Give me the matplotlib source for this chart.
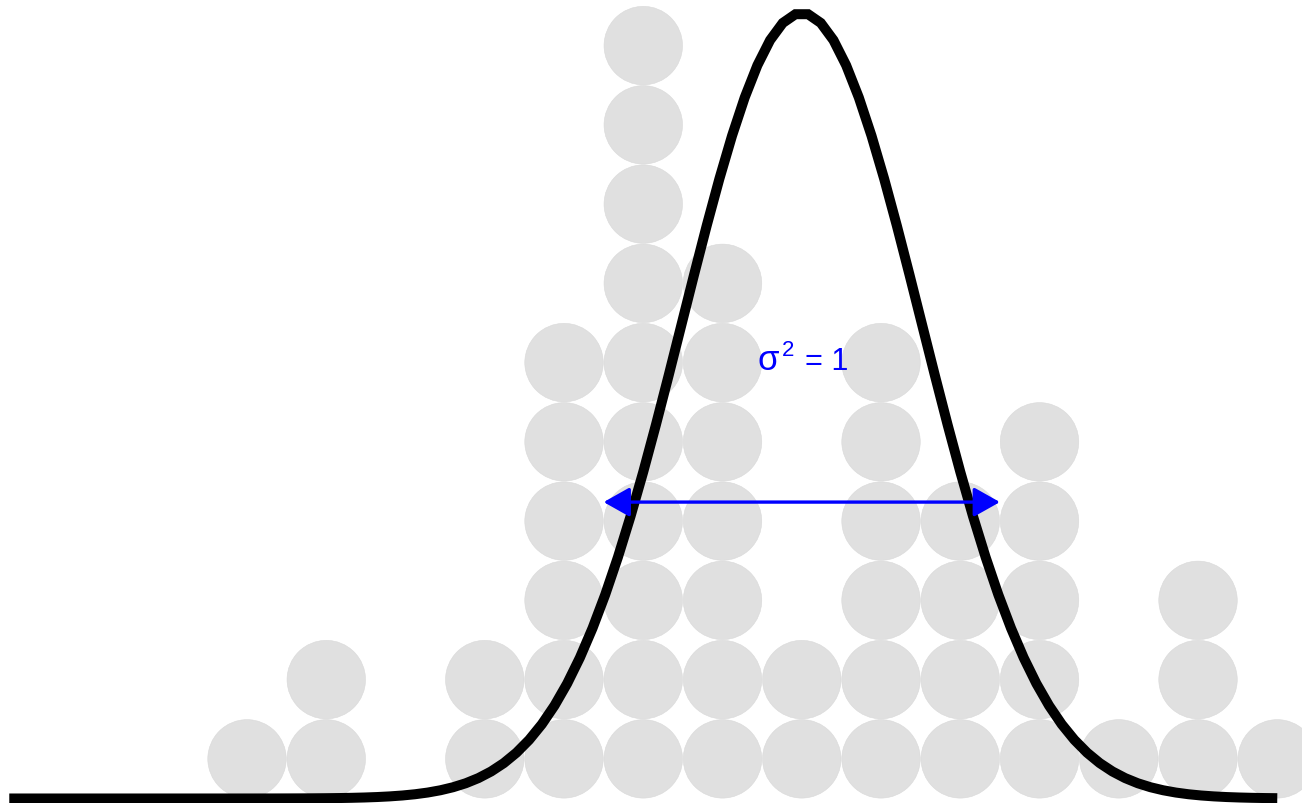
import numpy as np
import matplotlib
matplotlib.use("Agg")
import matplotlib.pyplot as plt
from matplotlib.patches import Circle, FancyArrowPatch

plt.rcParams['font.family'] = ['Liberation Sans', 'DejaVu Sans']

# dot plot: bin centres (in bin-width units) and number of stacked dots
bin_centers = [3, 4, 6, 7, 8, 9, 10, 11, 12, 13, 14, 15, 16]
dot_counts = [1, 2, 2, 6, 10, 7, 2, 6, 4, 5, 1, 3, 1]

# normal curve drawn over the dots
curve_mean = 10.0
curve_sd = 1.51
curve_peak = 9.91
curve_from, curve_to = 0.0, 16.0

# variance arrow and label
arrow_left, arrow_right = 7.5, 12.5
arrow_y = 3.74
label_y = 5.42

dot_color = '#e0e0e0'
blue = '#0000ff'

fig = plt.figure(figsize=(13.02, 8.04), dpi=100)
ax = fig.add_axes([0, 0, 1, 1])
ax.set_xlim(-0.117, 16.312)
ax.set_ylim(-0.057, 10.088)
ax.axis('off')

for xc, n in zip(bin_centers, dot_counts):
    for k in range(n):
        ax.add_patch(Circle((xc, k + 0.5), 0.495, facecolor=dot_color,
                            edgecolor='#d9d9d9', linewidth=0.4, zorder=1))

xs = np.linspace(curve_from, curve_to, 101)
ys = curve_peak * np.exp(-0.5 * ((xs - curve_mean) / curve_sd) ** 2)
ax.plot(xs, ys, color='black', linewidth=7.2, solid_capstyle='butt',
        solid_joinstyle='miter', zorder=2)

arr = FancyArrowPatch((arrow_left, arrow_y), (arrow_right, arrow_y),
                      arrowstyle='<|-|>,head_length=16,head_width=9',
                      mutation_scale=1, shrinkA=0, shrinkB=0,
                      color=blue, linewidth=2.4, zorder=3)
ax.add_patch(arr)

# sigma^2 = 1, built from pieces so the superscript matches the original
ax.annotate('σ', xy=(curve_mean, label_y), xytext=(-44, 0),
            textcoords='offset pixels', color=blue, fontsize=25,
            ha='left', va='baseline', zorder=4)
ax.annotate('2', xy=(curve_mean, label_y), xytext=(-20, 14),
            textcoords='offset pixels', color=blue, fontsize=16,
            ha='left', va='baseline', zorder=4)
ax.annotate('= 1', xy=(curve_mean, label_y), xytext=(3, 0),
            textcoords='offset pixels', color=blue, fontsize=22,
            ha='left', va='baseline', zorder=4)

fig.savefig('out.png', dpi=100)
